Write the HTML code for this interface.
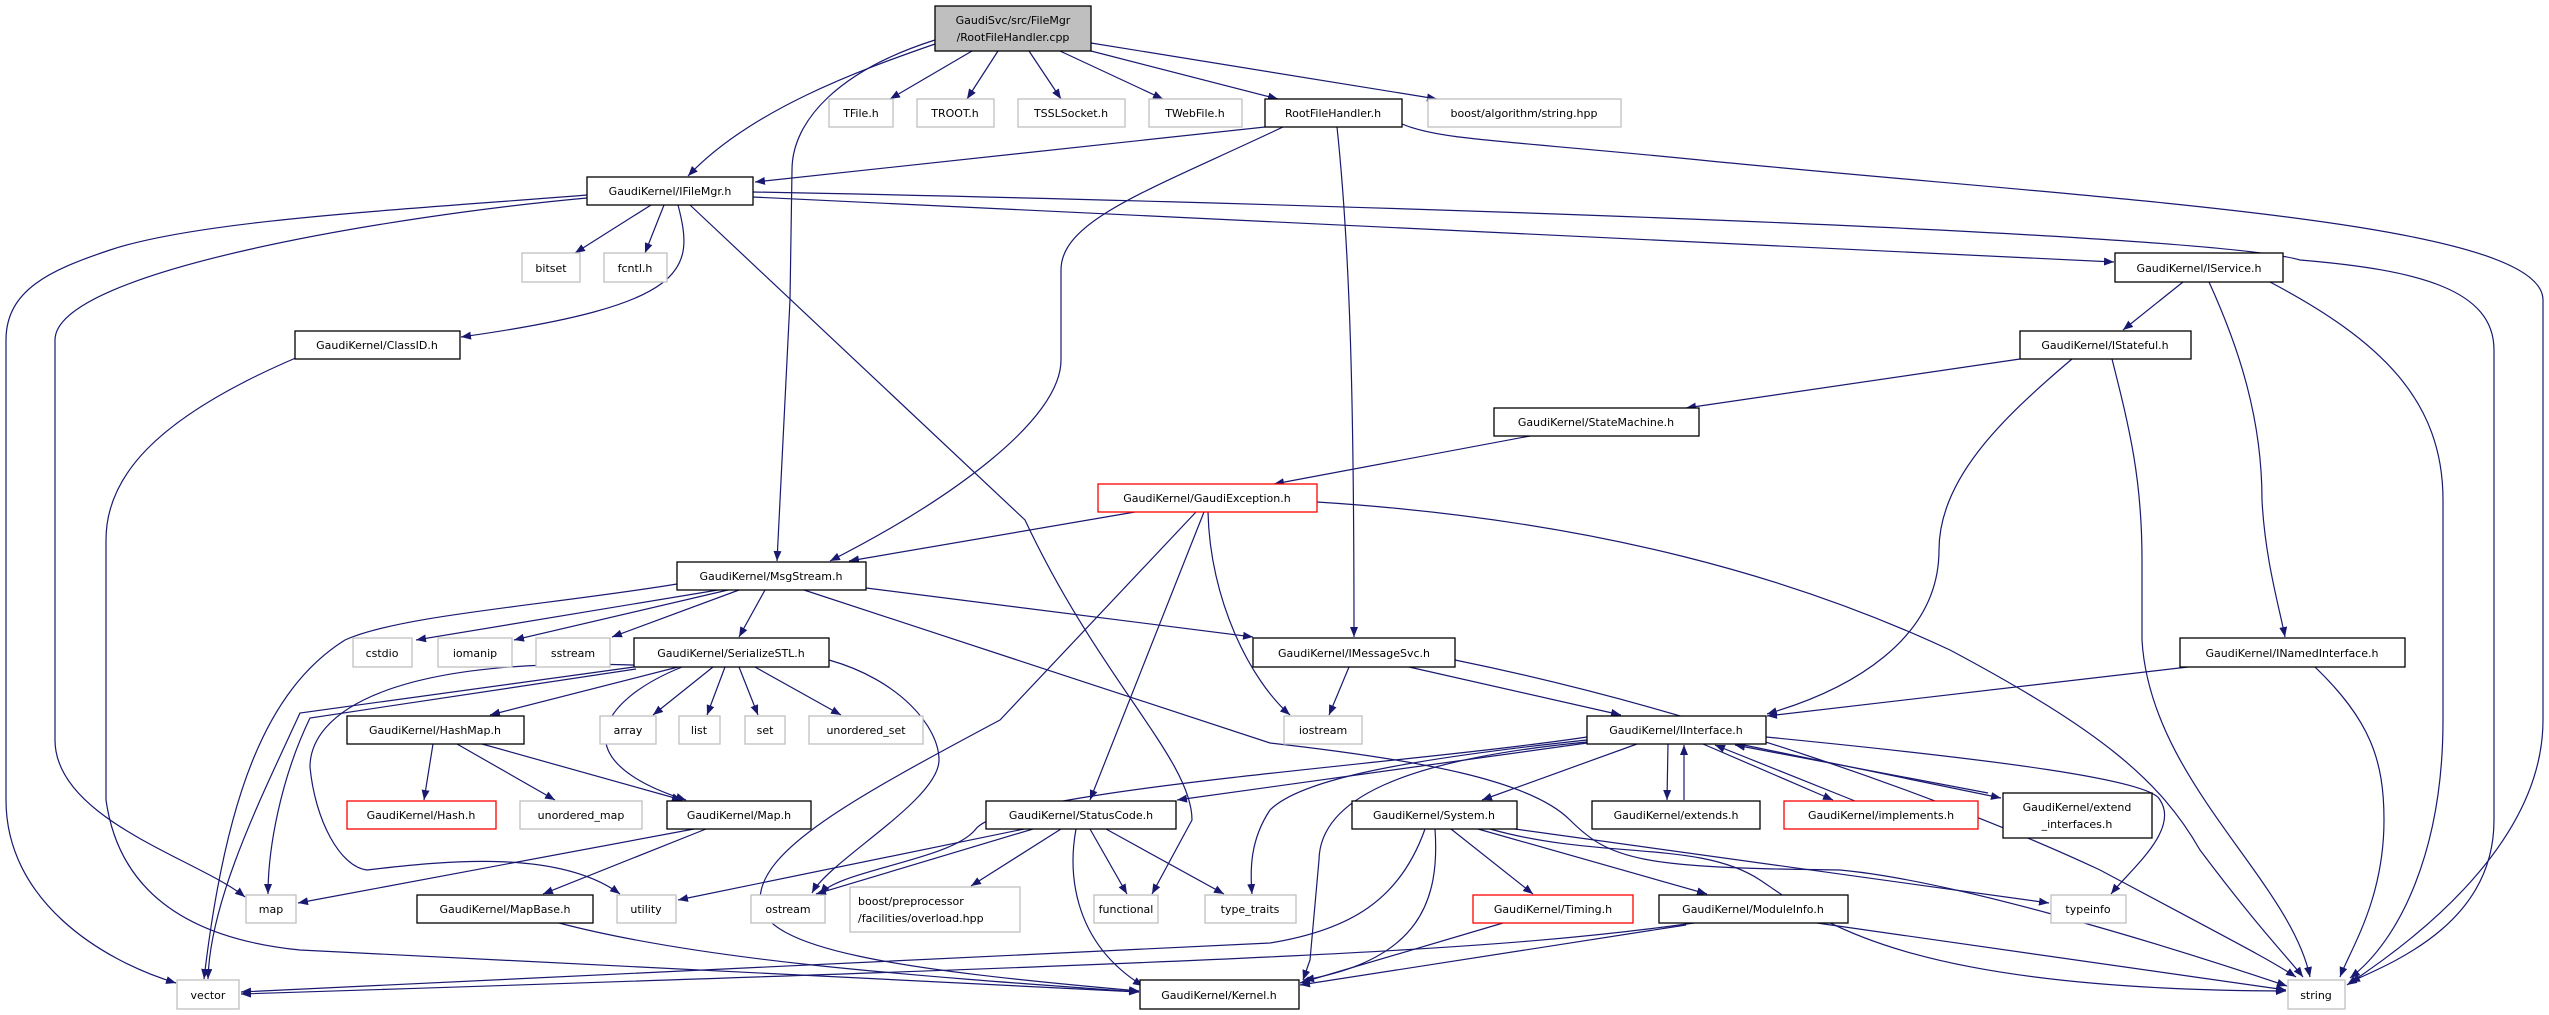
<!DOCTYPE html>
<html><head><meta charset="utf-8"><style>
html,body{margin:0;padding:0;background:#fff}
svg{display:block}
text{font-family:"DejaVu Sans","Liberation Sans",sans-serif;font-size:11px;fill:#000}
.e{fill:none;stroke:#191970;stroke-width:1.2}
.n{fill:#fff;stroke:#000;stroke-width:1.3}
.x{fill:#fff;stroke:#bfbfbf;stroke-width:1.3}
.r{fill:#fff;stroke:#ff0000;stroke-width:1.3}
</style></head><body>
<svg width="2549" height="1015" viewBox="0 0 2549 1015" xmlns="http://www.w3.org/2000/svg">
<defs><marker id="a" markerWidth="10" markerHeight="8" refX="10" refY="4" orient="auto" markerUnits="userSpaceOnUse"><path d="M0,0 L10,4 L0,8 z" fill="#191970"/></marker></defs>
<g class="e" marker-end="url(#a)">
<path d="M935,44 C860,70 750,110 688,176"/>
<path d="M935,40 C840,70 792,120 792,170 L790,300 L777,561"/>
<path d="M972,51 L890,99"/>
<path d="M998,51 L967,99"/>
<path d="M1029,51 L1061,99"/>
<path d="M1060,51 L1163,99"/>
<path d="M1091,51 L1278,99"/>
<path d="M1091,43 L1437,99"/>
<path d="M1265,127 L755,182"/>
<path d="M1283,127 C1150,190 1061,220 1061,270 L1061,360 C1061,420 950,500 830,561"/>
<path d="M1337,127 C1350,250 1354,400 1354,637"/>
<path d="M1402,124 C1440,140 1500,140 1700,160 C2100,200 2543,220 2543,300 L2543,720 C2543,850 2400,950 2347,985"/>
<path d="M651,205 L575,253"/>
<path d="M664,205 L645,253"/>
<path d="M678,205 C695,270 690,305 461,337"/>
<path d="M690,205 L1025,520 C1100,680 1192,760 1192,820 L1152,894"/>
<path d="M587,195 C400,210 200,220 110,250 C50,270 6,290 6,340 L6,800 C6,900 100,960 176,983"/>
<path d="M587,198 C400,215 55,270 55,340 L55,740 C55,820 200,860 245,897"/>
<path d="M753,197 L2114,262"/>
<path d="M753,192 C1200,200 2200,230 2300,260 C2420,270 2494,290 2494,350 L2494,820 C2494,920 2400,960 2350,982"/>
<path d="M298,357 C150,420 106,480 106,540 L106,800 C120,900 200,940 300,950 L1139,992"/>
<path d="M2183,282 L2123,330"/>
<path d="M2209,282 C2240,350 2262,420 2262,500 C2265,560 2280,610 2285,637"/>
<path d="M2270,282 C2380,340 2443,400 2443,500 L2443,720 C2443,850 2400,940 2350,978"/>
<path d="M2020,359 L1686,408"/>
<path d="M2072,359 C2000,420 1939,480 1939,550 C1939,640 1850,690 1767,714"/>
<path d="M2112,359 C2130,430 2142,480 2142,560 L2142,640 C2150,780 2290,880 2310,977"/>
<path d="M1530,436 L1274,484"/>
<path d="M1135,512 L849,561"/>
<path d="M1317,502 C1600,520 1800,580 1950,650 C2100,730 2160,780 2200,850 C2260,930 2290,960 2303,977"/>
<path d="M1196,512 L1000,720 C850,800 760,850 760,900 C760,950 900,970 1139,991"/>
<path d="M1204,512 L1090,800"/>
<path d="M1208,512 C1210,600 1250,680 1290,715"/>
<path d="M718,590 L416,640"/>
<path d="M728,590 L514,640"/>
<path d="M739,590 L612,637"/>
<path d="M765,590 L739,637"/>
<path d="M677,584 C550,605 400,615 345,640 C265,690 225,800 204,979"/>
<path d="M866,588 L1253,637"/>
<path d="M804,590 L1270,743 C1420,760 1530,780 1570,820 C1610,860 1640,868 1840,870 C1950,880 2150,940 2287,986"/>
<path d="M1349,667 L1329,715"/>
<path d="M1409,667 L1621,715"/>
<path d="M1455,660 C1700,710 1950,800 2100,870 C2250,950 2270,960 2296,977"/>
<path d="M2188,667 L1767,716"/>
<path d="M2315,667 C2370,720 2384,760 2384,820 C2384,900 2350,950 2340,977"/>
<path d="M678,667 L490,715"/>
<path d="M713,667 L653,715"/>
<path d="M725,667 L707,715"/>
<path d="M739,667 L758,715"/>
<path d="M755,667 L841,715"/>
<path d="M682,667 C600,700 560,760 686,800"/>
<path d="M634,667 L300,713 C260,800 210,900 208,979"/>
<path d="M636,669 L310,718 C280,780 268,850 268,894"/>
<path d="M678,667 C380,650 310,717 310,767 C315,820 340,867 367,870 C450,860 560,850 620,894"/>
<path d="M829,660 C900,680 939,727 939,760 C939,800 830,860 812,893"/>
<path d="M433,744 L424,800"/>
<path d="M457,744 L555,800"/>
<path d="M482,744 L682,800"/>
<path d="M694,829 L298,903"/>
<path d="M706,829 L543,894"/>
<path d="M559,923 C700,960 900,975 1139,992"/>
<path d="M1024,829 L678,900"/>
<path d="M1033,829 L816,894"/>
<path d="M1061,829 L971,886"/>
<path d="M1090,829 L1127,894"/>
<path d="M1106,829 L1224,894"/>
<path d="M1076,829 C1069,867 1069,940 1143,986"/>
<path d="M1587,743 L1177,800"/>
<path d="M1587,737 C1400,765 1000,790 975,830 C950,860 840,870 820,894"/>
<path d="M1587,740 C1400,760 1300,780 1270,810 C1250,840 1250,870 1252,894"/>
<path d="M1587,742 C1400,760 1320,800 1319,860 L1310,960 L1303,980"/>
<path d="M1637,744 L1482,800"/>
<path d="M1668,744 L1667,800"/>
<path d="M1684,800 L1684,745"/>
<path d="M1703,744 L1833,800"/>
<path d="M1855,801 L1715,745"/>
<path d="M1739,744 L2001,798"/>
<path d="M1988,793 L1735,745"/>
<path d="M1766,737 C2000,760 2152,780 2160,800 C2180,830 2130,870 2111,894"/>
<path d="M1451,829 L1533,894"/>
<path d="M1478,829 L1707,894"/>
<path d="M1515,829 L2049,903"/>
<path d="M1490,829 C1600,860 1700,840 1760,880 C1820,920 1900,990 2286,991"/>
<path d="M1435,829 C1440,900 1420,960 1304,980"/>
<path d="M1425,829 C1400,900 1350,930 1270,943 L241,992"/>
<path d="M1503,923 L1300,983"/>
<path d="M1694,923 C1500,950 1300,960 241,994"/>
<path d="M1686,925 L1300,985"/>
<path d="M1817,923 L2286,990"/>
</g>
<rect x="935" y="6" width="156" height="45" fill="#bfbfbf" stroke="#000" stroke-width="1.3"/>
<text x="1013" y="24" text-anchor="middle">GaudiSvc/src/FileMgr</text>
<text x="1013" y="41" text-anchor="middle">/RootFileHandler.cpp</text>
<g>
<rect class="x" x="829" y="99" width="64" height="28"/><text x="861" y="117" text-anchor="middle">TFile.h</text>
<rect class="x" x="917" y="99" width="77" height="28"/><text x="955" y="117" text-anchor="middle">TROOT.h</text>
<rect class="x" x="1018" y="99" width="107" height="28"/><text x="1071" y="117" text-anchor="middle">TSSLSocket.h</text>
<rect class="x" x="1149" y="99" width="93" height="28"/><text x="1195" y="117" text-anchor="middle">TWebFile.h</text>
<rect class="n" x="1265" y="99" width="137" height="28"/><text x="1333" y="117" text-anchor="middle">RootFileHandler.h</text>
<rect class="x" x="1428" y="99" width="193" height="28"/><text x="1524" y="117" text-anchor="middle">boost/algorithm/string.hpp</text>
<rect class="n" x="587" y="177" width="166" height="28"/><text x="670" y="195" text-anchor="middle">GaudiKernel/IFileMgr.h</text>
<rect class="x" x="522" y="253" width="58" height="29"/><text x="551" y="272" text-anchor="middle">bitset</text>
<rect class="x" x="604" y="253" width="63" height="29"/><text x="635" y="272" text-anchor="middle">fcntl.h</text>
<rect class="n" x="2115" y="253" width="168" height="29"/><text x="2199" y="272" text-anchor="middle">GaudiKernel/IService.h</text>
<rect class="n" x="295" y="331" width="165" height="28"/><text x="377" y="349" text-anchor="middle">GaudiKernel/ClassID.h</text>
<rect class="n" x="2020" y="331" width="171" height="28"/><text x="2105" y="349" text-anchor="middle">GaudiKernel/IStateful.h</text>
<rect class="n" x="1494" y="408" width="205" height="28"/><text x="1596" y="426" text-anchor="middle">GaudiKernel/StateMachine.h</text>
<rect class="r" x="1098" y="484" width="219" height="28"/><text x="1207" y="502" text-anchor="middle">GaudiKernel/GaudiException.h</text>
<rect class="n" x="677" y="562" width="189" height="28"/><text x="771" y="580" text-anchor="middle">GaudiKernel/MsgStream.h</text>
<rect class="x" x="353" y="638" width="59" height="29"/><text x="382" y="657" text-anchor="middle">cstdio</text>
<rect class="x" x="438" y="638" width="74" height="29"/><text x="475" y="657" text-anchor="middle">iomanip</text>
<rect class="x" x="536" y="638" width="74" height="29"/><text x="573" y="657" text-anchor="middle">sstream</text>
<rect class="n" x="634" y="638" width="195" height="29"/><text x="731" y="657" text-anchor="middle">GaudiKernel/SerializeSTL.h</text>
<rect class="n" x="1253" y="638" width="202" height="29"/><text x="1354" y="657" text-anchor="middle">GaudiKernel/IMessageSvc.h</text>
<rect class="n" x="2180" y="638" width="225" height="29"/><text x="2292" y="657" text-anchor="middle">GaudiKernel/INamedInterface.h</text>
<rect class="n" x="347" y="716" width="177" height="28"/><text x="435" y="734" text-anchor="middle">GaudiKernel/HashMap.h</text>
<rect class="x" x="600" y="716" width="56" height="28"/><text x="628" y="734" text-anchor="middle">array</text>
<rect class="x" x="679" y="716" width="41" height="28"/><text x="699" y="734" text-anchor="middle">list</text>
<rect class="x" x="745" y="716" width="40" height="28"/><text x="765" y="734" text-anchor="middle">set</text>
<rect class="x" x="809" y="716" width="114" height="28"/><text x="866" y="734" text-anchor="middle">unordered_set</text>
<rect class="x" x="1284" y="716" width="78" height="28"/><text x="1323" y="734" text-anchor="middle">iostream</text>
<rect class="n" x="1587" y="716" width="179" height="28"/><text x="1676" y="734" text-anchor="middle">GaudiKernel/IInterface.h</text>
<rect class="r" x="347" y="801" width="149" height="28"/><text x="421" y="819" text-anchor="middle">GaudiKernel/Hash.h</text>
<rect class="x" x="520" y="801" width="122" height="28"/><text x="581" y="819" text-anchor="middle">unordered_map</text>
<rect class="n" x="667" y="801" width="144" height="28"/><text x="739" y="819" text-anchor="middle">GaudiKernel/Map.h</text>
<rect class="n" x="986" y="801" width="190" height="28"/><text x="1081" y="819" text-anchor="middle">GaudiKernel/StatusCode.h</text>
<rect class="n" x="1352" y="801" width="165" height="28"/><text x="1434" y="819" text-anchor="middle">GaudiKernel/System.h</text>
<rect class="n" x="1592" y="801" width="168" height="28"/><text x="1676" y="819" text-anchor="middle">GaudiKernel/extends.h</text>
<rect class="r" x="1784" y="801" width="194" height="28"/><text x="1881" y="819" text-anchor="middle">GaudiKernel/implements.h</text>
<rect class="n" x="2003" y="793" width="149" height="45"/><text x="2077" y="811" text-anchor="middle">GaudiKernel/extend</text><text x="2077" y="828" text-anchor="middle">_interfaces.h</text>
<rect class="x" x="246" y="895" width="50" height="28"/><text x="271" y="913" text-anchor="middle">map</text>
<rect class="n" x="417" y="895" width="176" height="28"/><text x="505" y="913" text-anchor="middle">GaudiKernel/MapBase.h</text>
<rect class="x" x="617" y="895" width="59" height="28"/><text x="646" y="913" text-anchor="middle">utility</text>
<rect class="x" x="751" y="895" width="74" height="28"/><text x="788" y="913" text-anchor="middle">ostream</text>
<rect class="x" x="850" y="887" width="170" height="45"/><text x="858" y="905">boost/preprocessor</text><text x="858" y="922">/facilities/overload.hpp</text>
<rect class="x" x="1094" y="895" width="64" height="28"/><text x="1126" y="913" text-anchor="middle">functional</text>
<rect class="x" x="1205" y="895" width="91" height="28"/><text x="1250" y="913" text-anchor="middle">type_traits</text>
<rect class="r" x="1473" y="895" width="160" height="28"/><text x="1553" y="913" text-anchor="middle">GaudiKernel/Timing.h</text>
<rect class="n" x="1659" y="895" width="189" height="28"/><text x="1753" y="913" text-anchor="middle">GaudiKernel/ModuleInfo.h</text>
<rect class="x" x="2051" y="895" width="75" height="28"/><text x="2088" y="913" text-anchor="middle">typeinfo</text>
<rect class="x" x="177" y="980" width="62" height="29"/><text x="208" y="999" text-anchor="middle">vector</text>
<rect class="n" x="1140" y="980" width="159" height="29"/><text x="1219" y="999" text-anchor="middle">GaudiKernel/Kernel.h</text>
<rect class="x" x="2288" y="980" width="57" height="29"/><text x="2316" y="999" text-anchor="middle">string</text>
</g>
</svg>
</body></html>
